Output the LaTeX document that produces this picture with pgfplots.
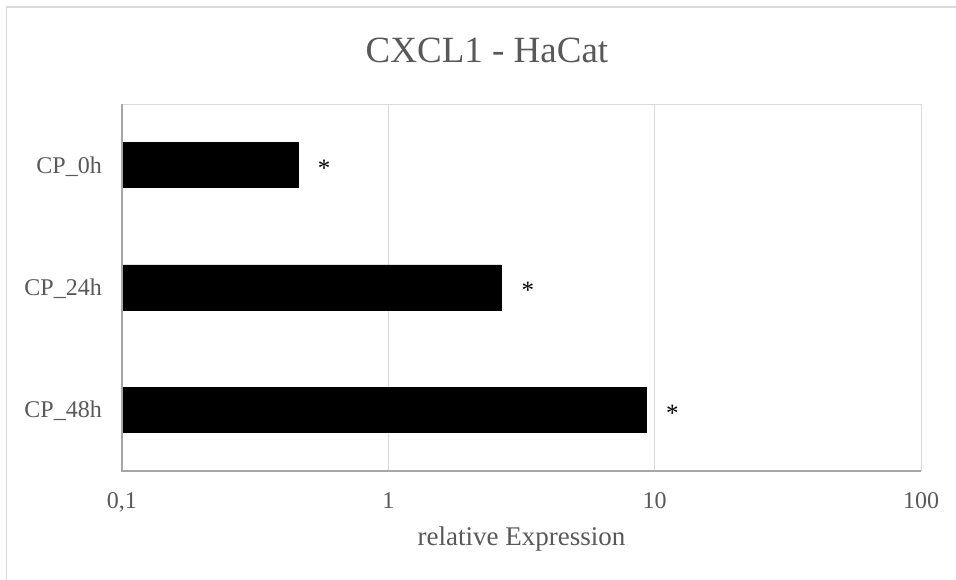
\documentclass[border=0pt]{standalone}
\usepackage{pgfplots}
\pgfplotsset{compat=1.18}
\usepackage{fontspec}
\setmainfont{Liberation Serif}
\definecolor{txt}{HTML}{595959}
\definecolor{gridc}{HTML}{D9D9D9}
\definecolor{axc}{HTML}{A6A6A6}
\begin{document}
\begin{tikzpicture}[x=1pt,y=1pt]
\useasboundingbox (0,0) rectangle (956,579);
\fill[white] (0,0) rectangle (956,579);
\draw[gridc, line width=1.8pt] (6.5,-2) -- (6.5,572) -- (960,572);
\node[anchor=base, text=txt, font=\fontsize{37}{44}\selectfont] at (487,516) {CXCL1 - HaCat};
\begin{axis}[
  at={(122pt,108pt)}, anchor=south west,
  scale only axis, width=799pt, height=367pt,
  xbar, bar width=0.368,
  xmode=log, log origin x=infty,
  xmin=0.1, xmax=100,
  xtick={0.1,1,10,100},
  xticklabels={{0,1},1,10,100},
  ymin=-0.5, ymax=2.5, y dir=reverse,
  ytick={0,1,2},
  yticklabels={CP\_0h, CP\_24h, CP\_48h},
  major tick length=0pt, minor tick length=0pt,
  xminorgrids=false, minor xtick={},
  xmajorgrids, major grid style={gridc, line width=1pt},
  axis line style={draw=none},
  xticklabel style={anchor=base, inner sep=0pt, yshift=-37pt, text=txt, font=\fontsize{24}{28}\selectfont},
  yticklabel style={anchor=base east, inner sep=0pt, xshift=-20pt, yshift=-8pt, text=txt, font=\fontsize{24}{28}\selectfont},
  xlabel={relative Expression},
  xlabel style={at={(axis description cs:0.5,0)}, anchor=base, inner sep=0pt, yshift=-74pt, text=txt, font=\fontsize{27}{32}\selectfont},
  nodes near coords={*},
  every node near coord/.append style={anchor=west, inner sep=0pt, xshift=20pt, yshift=-3pt, text=black, font=\fontsize{25}{30}\selectfont},
  clip=false,
]
\addplot[fill=black, draw=black] coordinates {(0.457,0) (2.657,1) (9.28,2)};
\draw[gridc, line width=1pt] (rel axis cs:0,1) -- (rel axis cs:1,1);
\draw[axc, line width=1.2pt] (rel axis cs:0,1) -- (rel axis cs:0,0) -- (rel axis cs:1,0);
\end{axis}
\end{tikzpicture}
\end{document}
